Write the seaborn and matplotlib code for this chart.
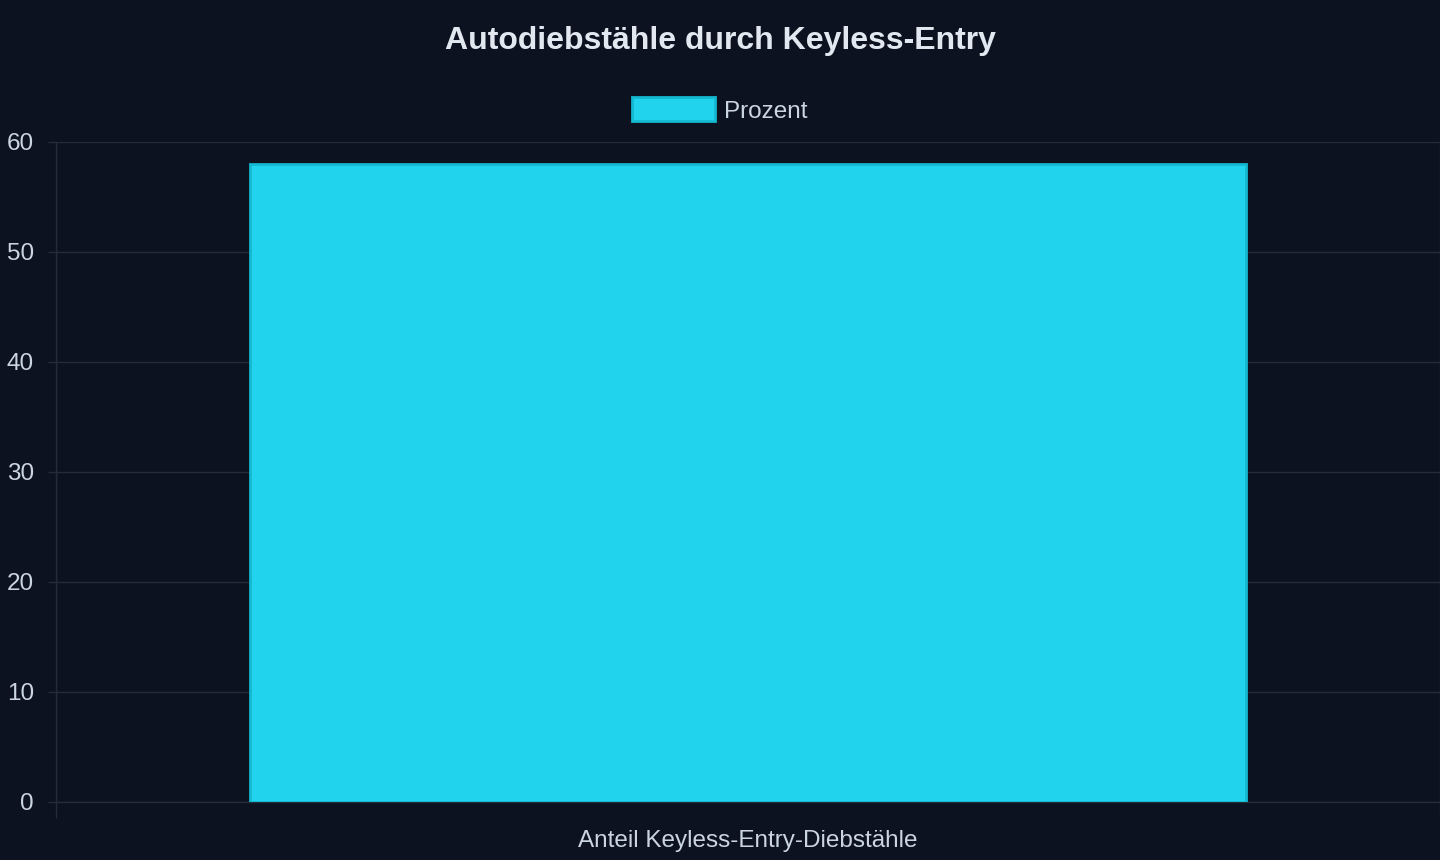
import matplotlib
matplotlib.use("Agg")
import matplotlib.pyplot as plt
import seaborn as sns

# chart data
categories = ["Anteil Keyless-Entry-Diebstähle"]
prozent = [58]
series_label = "Prozent"
y_ticks = [0, 10, 20, 30, 40, 50, 60]

bg = "#0d1221"
grid_col = "#262b38"
tick_col = "#cbd5e1"
title_col = "#e2e8f0"
bar_col = "#22d3ee"
edge_col = "#14b8d0"

sns.set_theme(style="dark")
plt.rcParams["font.family"] = ["Liberation Sans", "DejaVu Sans"]

fig = plt.figure(figsize=(14.4, 8.6), dpi=100, facecolor=bg)
ax = fig.add_axes([56 / 1440, 1 - 802 / 860, (1440 - 56) / 1440, (802 - 142) / 860])
ax.set_facecolor(bg)

sns.barplot(x=categories, y=prozent, color=bar_col, width=0.72,
            edgecolor=edge_col, linewidth=2, saturation=1,
            label=series_label, ax=ax, zorder=3)
handles, labels = ax.get_legend_handles_labels()
if ax.get_legend() is not None:
    ax.get_legend().remove()

ax.set_xlim(-0.5, 0.5)
ax.set_ylim(0, 60)
ax.set_yticks(y_ticks)
ax.set_xticks([-0.5, 0.5], minor=True)
ax.grid(axis="y", color=grid_col, linewidth=1.0, zorder=0)
ax.grid(axis="x", which="minor", color=grid_col, linewidth=1.0, zorder=0)
ax.grid(axis="x", which="major", visible=False)

for side in ["top", "right"]:
    ax.spines[side].set_visible(False)
for side in ["left", "bottom"]:
    ax.spines[side].set_color(grid_col)
    ax.spines[side].set_linewidth(1.0)

ax.tick_params(axis="y", colors=grid_col, labelcolor=tick_col, labelsize=17.5,
               length=5.8, width=1.0, pad=10, left=True)
ax.tick_params(axis="x", which="major", length=0, labelcolor=tick_col,
               labelsize=17.5, pad=20)
ax.tick_params(axis="x", which="minor", length=11.5, width=1.0, color=grid_col,
               bottom=True)
ax.set_xlabel("")
ax.set_ylabel("")

fig.text(0.5, 1 - 41 / 860, "Autodiebstähle durch Keyless-Entry", ha="center",
         va="center", color=title_col, fontsize=23, fontweight="bold")

leg = fig.legend(handles, labels, loc="center", bbox_to_anchor=(0.5, 1 - 110 / 860),
                 frameon=False, fontsize=17.5, handlelength=3.4, handleheight=1.15,
                 handletextpad=0.4)
for t in leg.get_texts():
    t.set_color(tick_col)

fig.savefig("out.png", dpi=100, facecolor=bg)
